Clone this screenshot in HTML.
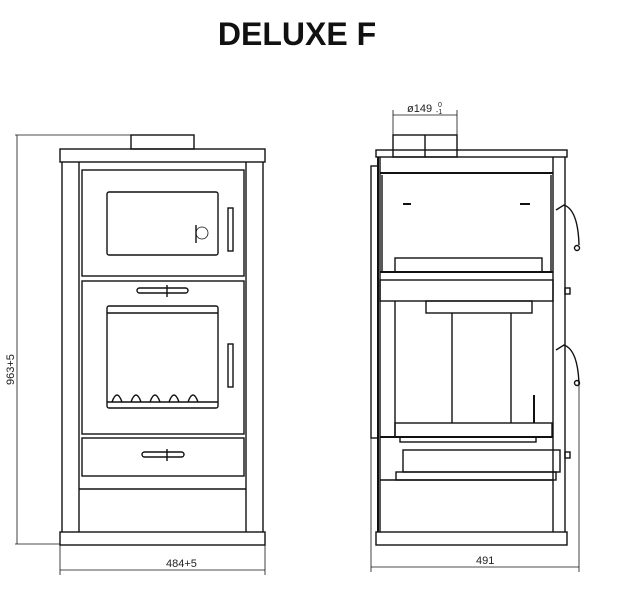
<!DOCTYPE html>
<html><head><style>
html,body{margin:0;padding:0;background:#fff;}
svg{display:block;}
.t{font-family:"Liberation Sans",sans-serif;}
</style></head><body>
<svg width="638" height="590" viewBox="0 0 638 590" xmlns="http://www.w3.org/2000/svg">
<text x="297" y="45" text-anchor="middle" class="t" font-size="32" font-weight="bold" fill="#111">DELUXE F</text>
<g fill="none" stroke="#111" stroke-width="1.4">
<!-- LEFT VIEW -->
<rect x="131" y="135" width="63" height="14"/>
<rect x="60" y="149" width="205" height="13"/>
<line x1="62" y1="162" x2="62" y2="532"/><line x1="263" y1="162" x2="263" y2="532"/>
<line x1="79" y1="162" x2="79" y2="532"/><line x1="246" y1="162" x2="246" y2="532"/>
<rect x="82" y="170" width="162" height="106"/>
<rect x="107" y="192" width="111" height="63" rx="2"/>
<rect x="228" y="208" width="5" height="43"/>
<circle cx="202" cy="233" r="6" stroke-width="0.8"/><line x1="196" y1="225" x2="196" y2="243"/>
<rect x="82" y="281" width="162" height="153"/>
<rect x="107" y="306" width="111" height="102" rx="2"/>
<line x1="107" y1="313" x2="218" y2="313"/>
<path d="M112 402 q5-14 10 0 M131 402 q5-14 10 0 M150 402 q5-14 10 0 M169 402 q5-14 10 0 M188 402 q5-14 10 0 M107 402 h111"/>
<rect x="228" y="344" width="5" height="43"/>
<rect x="137" y="288" width="51" height="5" rx="2.5"/><line x1="167" y1="285" x2="167" y2="297"/>
<rect x="82" y="438" width="162" height="38"/>
<rect x="142" y="452" width="42" height="5" rx="2.5"/><line x1="167" y1="449" x2="167" y2="461"/>
<line x1="79" y1="489" x2="246" y2="489"/>
<rect x="60" y="532" width="205" height="13"/>
<!-- dims left -->
<line x1="17" y1="135" x2="17" y2="544" stroke-width="0.8"/>
<line x1="15" y1="135" x2="131" y2="135" stroke-width="0.8"/>
<line x1="15" y1="544" x2="60" y2="544" stroke-width="0.8"/>
<line x1="60" y1="545" x2="60" y2="575" stroke-width="0.8"/>
<line x1="265" y1="545" x2="265" y2="575" stroke-width="0.8"/>
<line x1="60" y1="570" x2="265" y2="570" stroke-width="0.8"/>
<!-- RIGHT VIEW -->
<line x1="393" y1="110" x2="393" y2="135" stroke-width="0.8"/><line x1="457" y1="110" x2="457" y2="135" stroke-width="0.8"/>
<line x1="393" y1="115" x2="457" y2="115" stroke-width="0.8"/>
<rect x="393" y="135" width="64" height="22"/><line x1="425" y1="135" x2="425" y2="157"/>
<rect x="376" y="150" width="191" height="7"/>
<line x1="378" y1="157" x2="378" y2="532" stroke-width="2"/>
<line x1="380" y1="157" x2="380" y2="532"/>
<rect x="371" y="166" width="7" height="272"/>
<line x1="553" y1="157" x2="553" y2="532"/>
<line x1="565" y1="157" x2="565" y2="532"/>
<line x1="380" y1="173" x2="553" y2="173" stroke-width="2"/>
<line x1="382" y1="175" x2="382" y2="272"/>
<line x1="551" y1="175" x2="551" y2="272"/>
<line x1="403" y1="204" x2="411" y2="204" stroke-width="2"/><line x1="520" y1="204" x2="530" y2="204" stroke-width="2"/>
<rect x="395" y="258" width="147" height="14"/>
<line x1="380" y1="272" x2="553" y2="272" stroke-width="2"/>
<rect x="380" y="280" width="173" height="21"/>
<rect x="426" y="301" width="106" height="12"/>
<line x1="395" y1="301" x2="395" y2="437"/><line x1="452" y1="313" x2="452" y2="423"/><line x1="511" y1="313" x2="511" y2="423"/>
<rect x="395" y="423" width="157" height="14"/>
<line x1="534" y1="395" x2="534" y2="423" stroke-width="2"/>
<line x1="380" y1="437" x2="553" y2="437" stroke-width="2"/>
<rect x="400" y="437" width="136" height="5"/>
<rect x="403" y="450" width="157" height="22"/>
<rect x="396" y="472" width="160" height="8"/>
<line x1="380" y1="480" x2="553" y2="480"/>
<path d="M556 210 l8-5 q14 5 15 40 M556 350 l8-5 q14 5 15 40"/>
<circle cx="577" cy="248" r="2.5"/><circle cx="577" cy="383" r="2.5"/>
<rect x="565" y="288" width="5" height="6"/><rect x="565" y="452" width="5" height="6"/>
<rect x="376" y="532" width="191" height="13"/>
<line x1="371" y1="438" x2="371" y2="572" stroke-width="0.8"/>
<line x1="579" y1="385" x2="579" y2="572" stroke-width="0.8"/>
<line x1="371" y1="567" x2="579" y2="567" stroke-width="0.8"/>
</g>
<g class="t" fill="#222" font-size="11">
<text x="407" y="112">ø149</text><text x="438" y="107" font-size="7">0</text><text x="436" y="114" font-size="7">-1</text>
<text x="476" y="564">491</text>
<text x="166" y="567">484+5</text>
<text transform="translate(14,385) rotate(-90)">963+5</text>
</g>
</svg>
</body></html>
